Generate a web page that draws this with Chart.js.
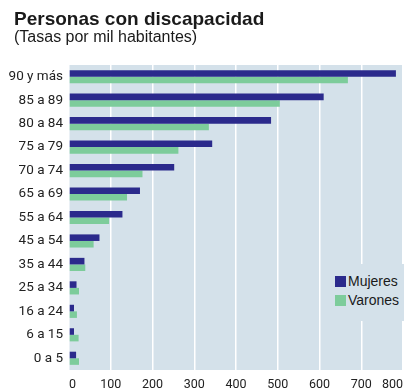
<!DOCTYPE html>
<html>
<head>
<meta charset="utf-8">
<script src="https://cdn.jsdelivr.net/npm/chart.js@4"></script>
<style>
  body { margin: 0; background: #fff; }
  #wrap { position: relative; width: 410px; height: 391px; }
  #title { position: absolute; left: 14px; top: 8px; font: bold 19px "Liberation Sans", Arial, sans-serif; color: #1a1a1a; }
  #sub { position: absolute; left: 14px; top: 28px; font: 16px "Liberation Sans", Arial, sans-serif; color: #1a1a1a; }
  #legend { position: absolute; left: 331px; top: 264px; width: 73px; height: 57px; background: #d4e1ea; font: 14px "Liberation Sans", Arial, sans-serif; color: #1a1a1a; }
  #legend div { position: absolute; left: 4px; white-space: nowrap; line-height: 16px; }
  #legend span { display: inline-block; width: 11px; height: 11px; margin-right: 2px; vertical-align: -1px; }
  canvas { position: absolute; left: 0; top: 0; }
</style>
</head>
<body>
<div id="wrap">
  <canvas id="myChart" width="410" height="391"></canvas>
  <div id="title">Personas con discapacidad</div>
  <div id="sub">(Tasas por mil habitantes)</div>
  <div id="legend"></div>
</div>
<script>
const ageGroups = ['90 y más', '85 a 89', '80 a 84', '75 a 79', '70 a 74', '65 a 69', '55 a 64',
    '45 a 54', '35 a 44', '25 a 34', '16 a 24', '6 a 15', '0 a 5'];
const mujeres = [783, 610, 484, 343, 252, 170, 128, 73, 37, 18, 12, 12, 17];
const varones = [668, 505, 335, 262, 176, 139, 96, 59, 39, 24, 19, 23, 24];
const xTicks = [0, 100, 200, 300, 400, 500, 600, 700, 800];

const navy = '#2b2a8c';
const green = '#7dcc9b';
const tickFont = 'Roboto, "Liberation Sans", sans-serif';

// light blue panel behind the bars
const panelBg = {
    id: 'panelBg',
    beforeDraw(chart) {
        const a = chart.chartArea;
        const c = chart.ctx;
        c.save();
        c.fillStyle = '#d4e1ea';
        c.fillRect(a.left, a.top, a.right - a.left, a.bottom - a.top);
        c.restore();
    }
};

const ctx = document.getElementById('myChart').getContext('2d');
const ch = new Chart(ctx, {
    type: 'bar',
    data: {
        labels: ageGroups,
        datasets: [
            { label: 'Mujeres', data: mujeres, backgroundColor: navy },
            { label: 'Varones', data: varones, backgroundColor: green }
        ]
    },
    options: {
        indexAxis: 'y',
        responsive: false,
        animation: false,
        layout: { padding: { top: 65, right: 0, left: 0, bottom: 0 } },
        datasets: { bar: { categoryPercentage: 0.56, barPercentage: 1.0 } },
        plugins: { legend: { display: false }, tooltip: { enabled: false } },
        scales: {
            x: {
                min: 0,
                max: 800,
                afterBuildTicks(scale) { scale.ticks = xTicks.map(v => ({ value: v })); },
                afterFit(scale) { scale.height = 21; },
                grid: { color: '#ffffff', lineWidth: 1.5, drawTicks: false },
                border: { display: false },
                ticks: { align: 'inner', padding: 7, color: '#222', font: { family: tickFont, size: 12.5 } }
            },
            y: {
                afterFit(scale) { scale.width = 69; },
                grid: { display: false, drawTicks: false },
                border: { display: false },
                ticks: { padding: 6, color: '#222', font: { family: tickFont, size: 13.5 } }
            }
        }
    },
    plugins: [panelBg]
});

// legend built from the datasets
const leg = document.getElementById('legend');
ch.data.datasets.forEach((ds, i) => {
    const row = document.createElement('div');
    row.style.top = (9 + i * 19) + 'px';
    row.innerHTML = '<span style="background:' + ds.backgroundColor + '"></span>' + ds.label;
    leg.appendChild(row);
});
</script>
</body>
</html>
